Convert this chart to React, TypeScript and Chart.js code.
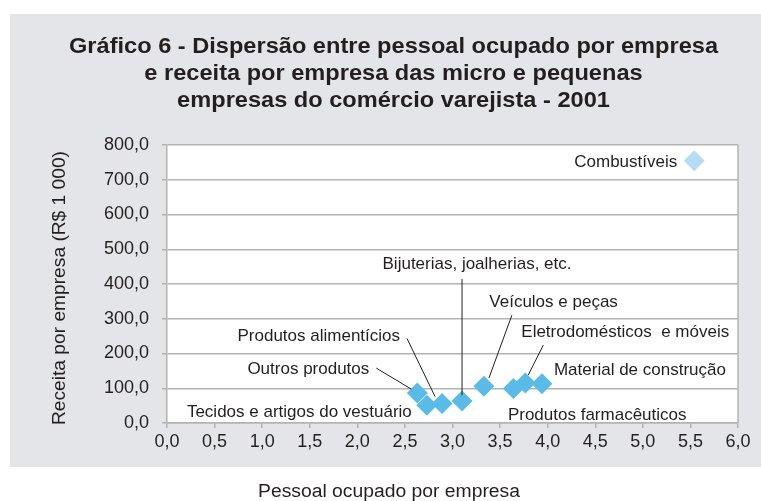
import React, { useEffect, useRef } from "react";
import { Chart, registerables } from "chart.js";

Chart.register(...registerables);

// ---- data ----
const categories = [
  "Combustíveis",
  "Outros produtos",
  "Tecidos e artigos do vestuário",
  "Produtos alimentícios",
  "Bijuterias, joalherias, etc.",
  "Veículos e peças",
  "Produtos farmacêuticos",
  "Eletrodomésticos  e móveis",
  "Material de construção",
];
const pessoalOcupado = [5.54, 2.63, 2.73, 2.89, 3.1, 3.33, 3.64, 3.765, 3.94];
const receitaPorEmpresa = [755, 86, 51, 56, 63, 106, 99, 115, 113];
const xTickValues = [0, 0.5, 1, 1.5, 2, 2.5, 3, 3.5, 4, 4.5, 5, 5.5, 6];
const yTickValues = [0, 100, 200, 300, 400, 500, 600, 700, 800];
const titleLines = [
  "Gráfico 6 - Dispersão entre pessoal ocupado por empresa",
  "e receita por empresa das micro e pequenas",
  "empresas do comércio varejista - 2001",
];
const xAxisTitle = "Pessoal ocupado por empresa";
const yAxisTitle = "Receita por empresa (R$ 1 000)";

// ---- label layout (pixel offsets relative to each point) ----
type LabelLayout = { dx: number; dy: number; align: CanvasTextAlign; leader?: [number, number, number, number] };
const labelLayout: LabelLayout[] = [
  { dx: -17, dy: 0, align: "right" },
  { dx: -48, dy: -25, align: "right", leader: [-41, -25, -6, -4] },
  { dx: -15, dy: 6, align: "right" },
  { dx: -42, dy: -69, align: "right", leader: [-35, -65, -7, -7] },
  { dx: 15, dy: -138, align: "center", leader: [0, -122, 0, -6] },
  { dx: 5.4, dy: -85, align: "left", leader: [28, -71, 5, -8] },
  { dx: -5.5, dy: 25, align: "left" },
  { dx: -4, dy: -52, align: "left", leader: [18, -38, 3, -8] },
  { dx: 12, dy: -14.6, align: "left" },
];

const FONT = '"Liberation Sans", Arial, sans-serif';
const TEXT = "#231f20";
const GRID = "#b3b3b3";
const BG = "#e4e5e9";
const POINT = "#5bbbe8";
const POINT_LIGHT = "#b5dcf4";

const fmt = (v: number) => v.toFixed(1).replace(".", ",");

function fitText(ctx: CanvasRenderingContext2D, text: string, x: number, y: number, width: number, rot = 0) {
  const w = ctx.measureText(text).width;
  ctx.save();
  ctx.translate(x, y);
  if (rot) ctx.rotate(rot);
  ctx.scale(width / w, 1);
  ctx.fillText(text, 0, 0);
  ctx.restore();
}

const decorPlugin = {
  id: "decor",
  beforeDraw(chart: any) {
    const { ctx, chartArea: a, width, height } = chart;
    ctx.save();
    ctx.fillStyle = "#ffffff";
    ctx.fillRect(0, 0, width, height);
    ctx.fillStyle = BG;
    ctx.fillRect(10, 14, width - 10, 453);
    ctx.fillStyle = "#ffffff";
    ctx.fillRect(a.left, a.top, a.right - a.left, a.bottom - a.top);
    ctx.restore();
  },
  afterDraw(chart: any) {
    const { ctx, chartArea: a } = chart;
    ctx.save();
    // plot border (right side)
    ctx.strokeStyle = GRID;
    ctx.lineWidth = 1.5;
    ctx.beginPath();
    ctx.moveTo(a.right, a.top);
    ctx.lineTo(a.right, a.bottom);
    ctx.stroke();

    // title
    ctx.fillStyle = TEXT;
    ctx.font = `bold 22px ${FONT}`;
    ctx.textAlign = "center";
    ctx.textBaseline = "alphabetic";
    const w0 = ctx.measureText(titleLines[0]).width;
    const sx = 649 / w0;
    const baselines = [52.5, 80, 107];
    titleLines.forEach((t, i) => {
      ctx.save();
      ctx.translate(393.5, baselines[i]);
      ctx.scale(sx, 1);
      ctx.fillText(t, 0, 0);
      ctx.restore();
    });

    // axis titles
    ctx.font = `18px ${FONT}`;
    ctx.textAlign = "center";
    fitText(ctx, xAxisTitle, 389, 496.5, 262);
    fitText(ctx, yAxisTitle, 64.5, 288, 274, -Math.PI / 2);
    ctx.restore();
  },
  afterDatasetsDraw(chart: any) {
    const { ctx } = chart;
    const meta = chart.getDatasetMeta(0);
    ctx.save();
    ctx.font = `17px ${FONT}`;
    ctx.fillStyle = TEXT;
    ctx.strokeStyle = TEXT;
    ctx.lineWidth = 1;
    ctx.textBaseline = "alphabetic";
    categories.forEach((name, i) => {
      const el = meta.data[i];
      const L = labelLayout[i];
      const x = el.x;
      const y = el.y;
      if (L.leader) {
        ctx.beginPath();
        ctx.moveTo(x + L.leader[0], y + L.leader[1]);
        ctx.lineTo(x + L.leader[2], y + L.leader[3]);
        ctx.stroke();
      }
      ctx.textAlign = L.align;
      ctx.fillText(name, x + L.dx, y + L.dy + 6);
    });
    ctx.restore();
  },
};

export default function App() {
  const ref = useRef<HTMLCanvasElement | null>(null);
  useEffect(() => {
    document.body.style.margin = "0";
    if (!ref.current) return;
    const chart = new Chart(ref.current, {
      type: "scatter",
      data: {
        datasets: [
          {
            label: "Atividades",
            data: pessoalOcupado.map((x, i) => ({ x, y: receitaPorEmpresa[i] })),
            pointStyle: "rectRot",
            pointRadius: 10.5,
            pointHoverRadius: 10.5,
            pointBorderWidth: 0,
            backgroundColor: categories.map((_, i) => (i === 0 ? POINT_LIGHT : POINT)),
            borderColor: categories.map((_, i) => (i === 0 ? POINT_LIGHT : POINT)),
          },
        ],
      },
      options: {
        responsive: false,
        animation: false,
        events: [],
        layout: { padding: { left: 0, top: 145, right: 23, bottom: 0 } },
        plugins: { legend: { display: false }, tooltip: { enabled: false }, title: { display: false } },
        scales: {
          x: {
            type: "linear",
            min: 0,
            max: 6,
            afterFit: (s: any) => {
              s.height = 78;
            },
            afterBuildTicks: (s: any) => {
              s.ticks = xTickValues.map((v) => ({ value: v }));
            },
            ticks: {
              callback: (v: any) => fmt(Number(v)),
              color: TEXT,
              font: { family: FONT, size: 18 },
              padding: 3,
              maxRotation: 0,
              autoSkip: false,
            },
            grid: {
              drawOnChartArea: false,
              drawTicks: true,
              tickLength: 5,
              color: GRID,
              lineWidth: 1.5,
            },
            border: { color: GRID, width: 1.5 },
          },
          y: {
            type: "linear",
            min: 0,
            max: 800,
            afterFit: (s: any) => {
              s.width = 167;
            },
            afterBuildTicks: (s: any) => {
              s.ticks = yTickValues.map((v) => ({ value: v }));
            },
            ticks: {
              callback: (v: any) => fmt(Number(v)),
              color: TEXT,
              font: { family: FONT, size: 18 },
              padding: 13,
              autoSkip: false,
            },
            grid: {
              drawOnChartArea: true,
              drawTicks: true,
              tickLength: 5,
              color: GRID,
              lineWidth: 1.5,
            },
            border: { color: GRID, width: 1.5 },
          },
        },
      },
      plugins: [decorPlugin],
    });
    return () => chart.destroy();
  }, []);
  return (
    <div style={{ position: "absolute", left: 0, top: 0, width: 761, height: 501 }}>
      <canvas ref={ref} width={761} height={501} style={{ width: 761, height: 501, display: "block" }} />
    </div>
  );
}
